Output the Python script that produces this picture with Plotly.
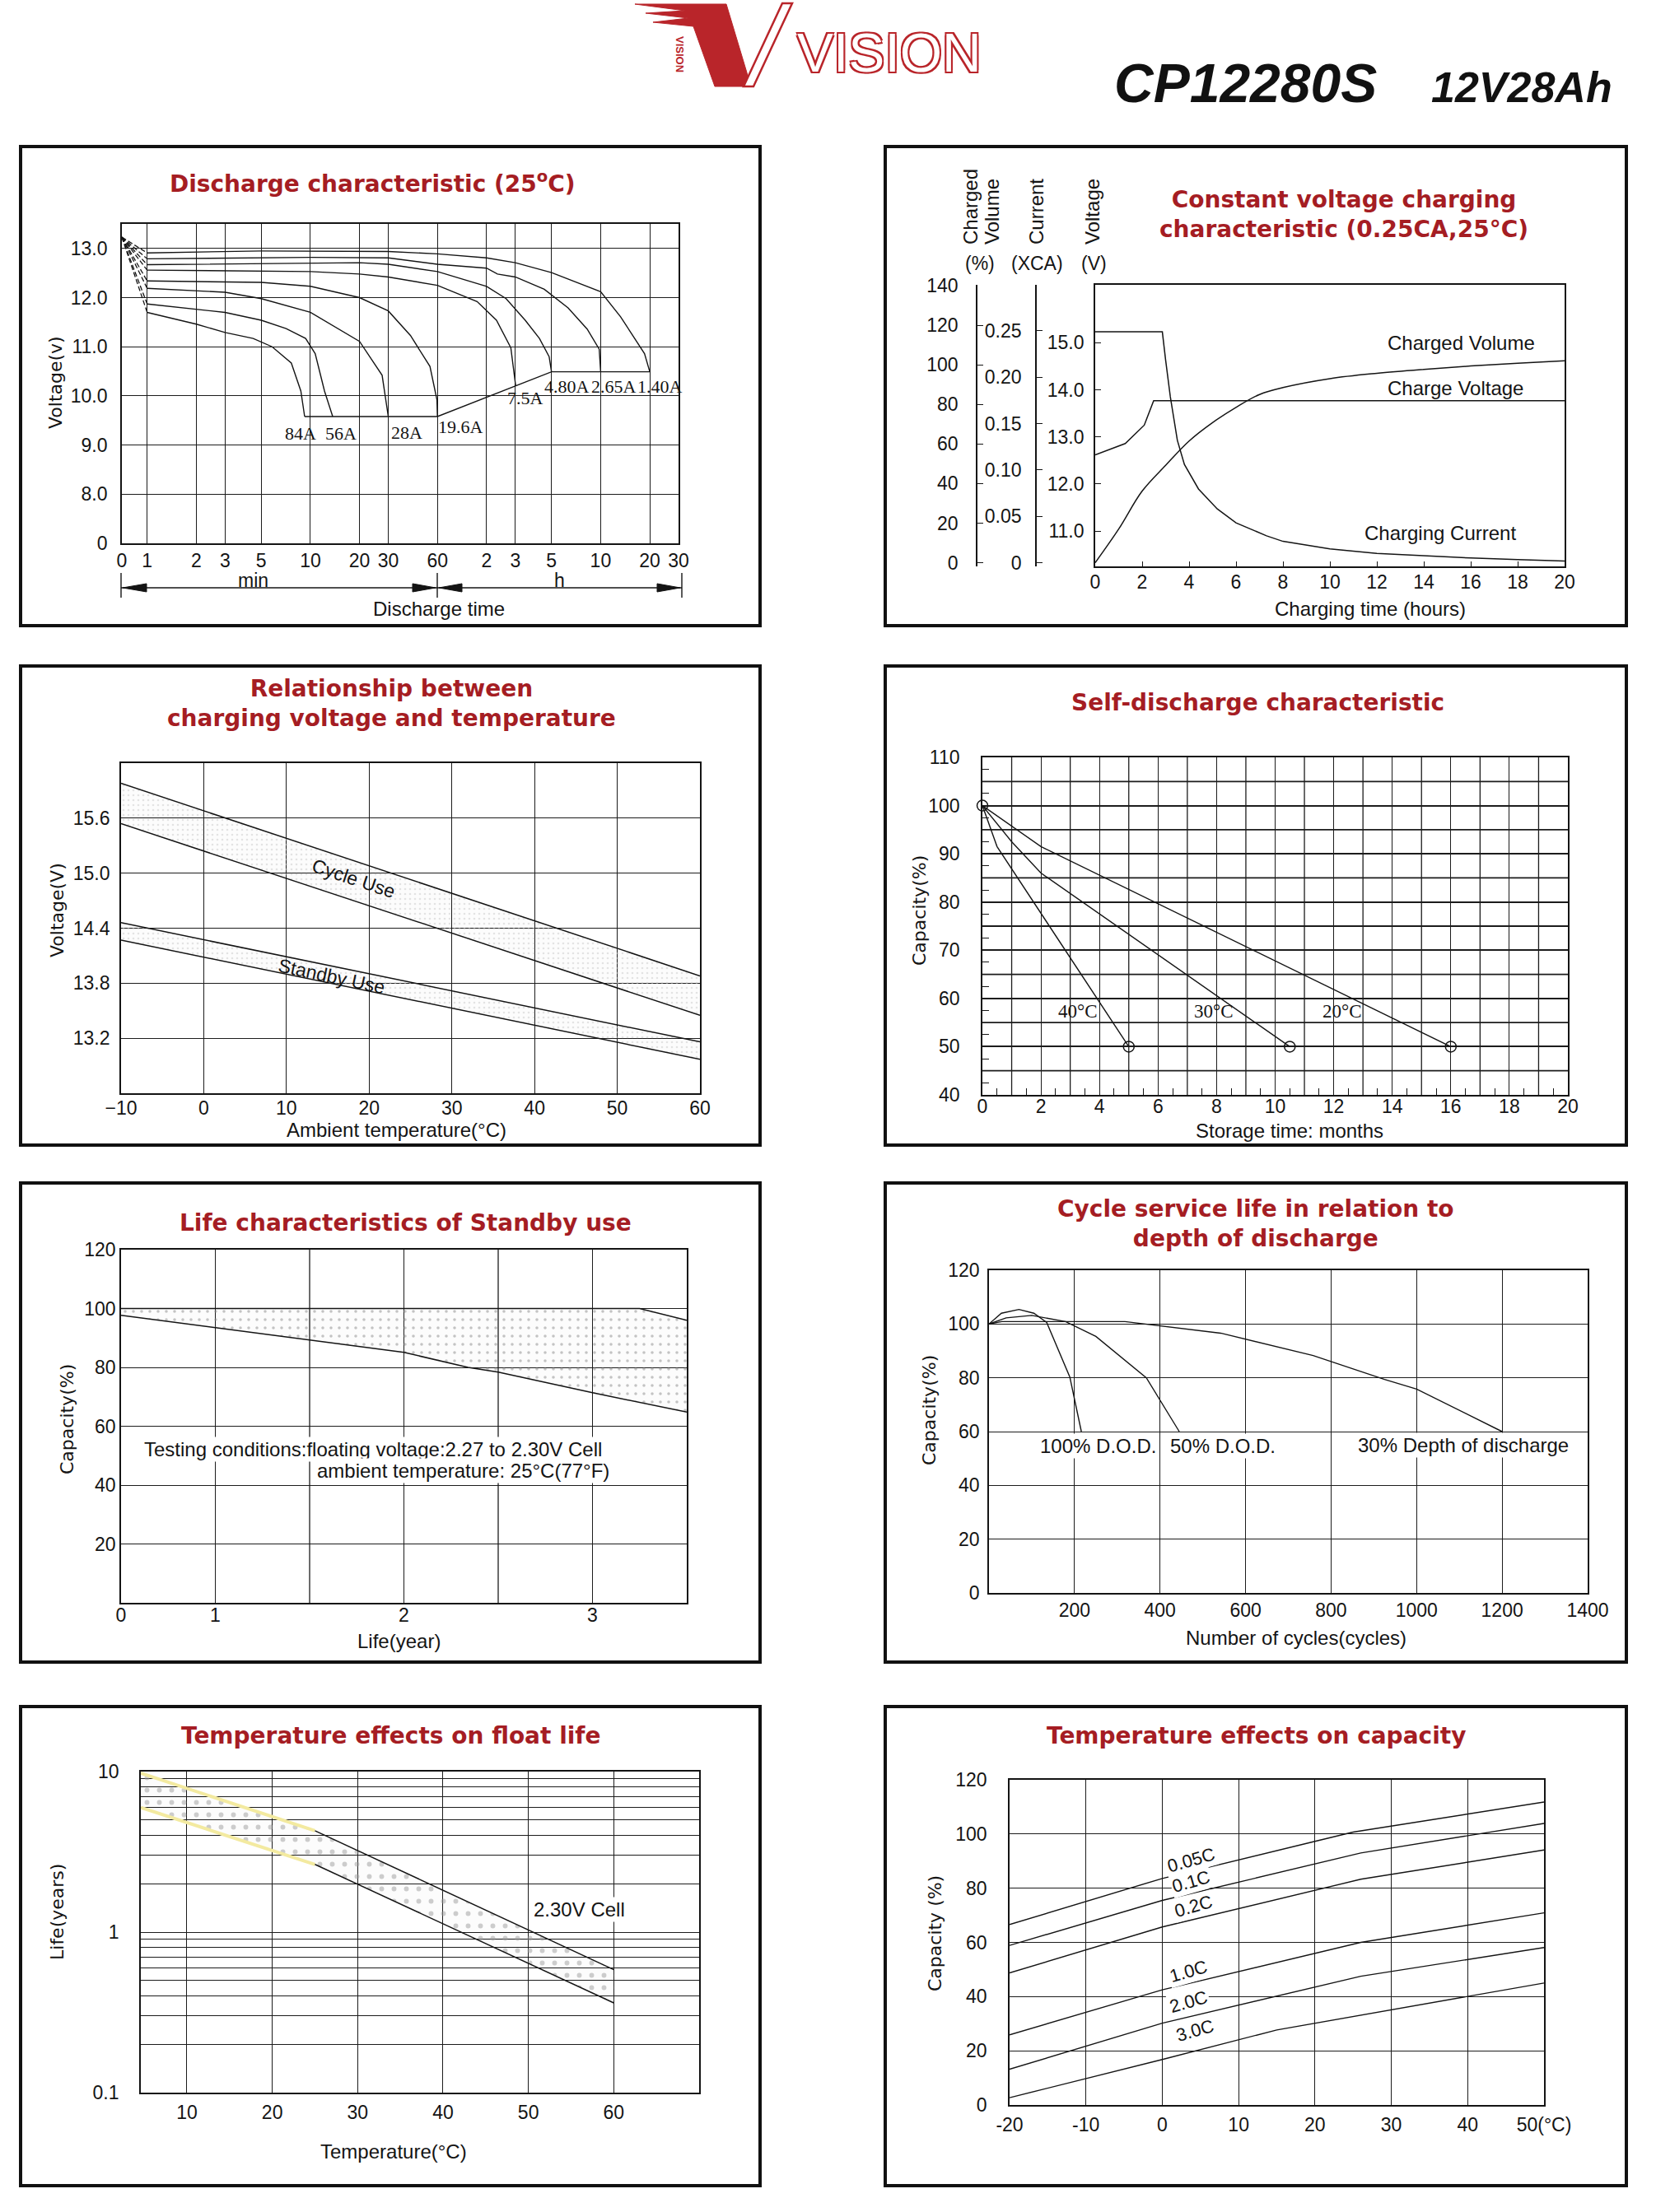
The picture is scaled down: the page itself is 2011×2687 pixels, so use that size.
import math
import plotly.graph_objects as go

W, H = 2011, 2687
INK = "#141414"
RED = "#a51d23"
SANS = "Liberation Sans, Arial, sans-serif"
SERIF = "Liberation Serif, Times New Roman, serif"
WIDE = "DejaVu Sans, Verdana, sans-serif"

# ================= DATA =================
# Panel 1: discharge characteristic (time in minutes, log axis)
DIS_T_ZERO = 0.7          # where the "0" tick sits on the log time axis
DIS_V_START = 13.23
dis_x_ticks = [0.7, 1, 2, 3, 5, 10, 20, 30, 60, 120, 180, 300, 600, 1200, 1800]
dis_x_text = ["0", "1", "2", "3", "5", "10", "20", "30", "60", "2", "3", "5", "10", "20", "30"]
dis_y_ticks = [7, 8, 9, 10, 11, 12, 13]
dis_y_text = ["0", "8.0", "9.0", "10.0", "11.0", "12.0", "13.0"]
dis_names = ["1.40A", "2.65A", "4.80A", "7.5A", "19.6A", "28A", "56A", "84A"]
dis_time = [
    [1, 5, 30, 60, 120, 180, 300, 600, 795, 973, 1114, 1200],
    [1, 10, 30, 60, 120, 140, 180, 271, 379, 496, 588, 600],
    [1, 20, 30, 60, 120, 158, 207, 253, 290, 300],
    [1, 10, 20, 30, 60, 105, 138, 169, 181],
    [1, 5, 10, 20, 30, 41, 54, 59.6, 60],
    [1, 3, 5, 10, 20, 27.5, 30],
    [1, 3, 5, 7.1, 9.35, 10.7, 12.2, 13.7],
    [1, 2, 3, 4.46, 5.83, 7.64, 8.74, 9.22],
]
dis_volt = [
    [12.91, 12.95, 12.94, 12.89, 12.81, 12.71, 12.51, 12.12, 11.61, 11.17, 10.86, 10.49],
    [12.79, 12.82, 12.81, 12.68, 12.60, 12.48, 12.42, 12.17, 11.79, 11.36, 10.95, 10.49],
    [12.67, 12.71, 12.68, 12.53, 12.23, 11.98, 11.54, 11.17, 10.80, 10.49],
    [12.56, 12.53, 12.48, 12.42, 12.25, 11.92, 11.54, 10.98, 10.20],
    [12.34, 12.31, 12.23, 12.00, 11.73, 11.23, 10.60, 9.92, 9.58],
    [12.19, 12.11, 11.98, 11.70, 11.11, 10.42, 9.58],
    [11.87, 11.70, 11.54, 11.37, 11.17, 10.86, 10.10, 9.58],
    [11.70, 11.46, 11.29, 11.17, 11.00, 10.67, 10.10, 9.58],
]
dis_cut_time = [9.22, 60, 300, 1200]
dis_cut_volt = [9.58, 9.58, 10.49, 10.49]
dis_lab_time = [1390, 719, 374, 207, 83, 39, 15.3, 8.74]
dis_lab_volt = [10.19, 10.19, 10.19, 9.95, 9.37, 9.26, 9.23, 9.23]

# Panel 2: constant voltage charging
ch_volt_t = [0, 1.28, 2.09, 2.49, 20]
ch_volt_v = [12.62, 12.86, 13.25, 13.77, 13.77]
ch_cur_t = [0, 2.86, 3.0, 3.2, 3.5, 3.8, 4.4, 5.2, 6, 7.3, 8, 10, 12, 14, 16, 18, 20]
ch_cur_c = [0.249, 0.249, 0.2185, 0.179, 0.132, 0.106, 0.0795, 0.058, 0.043, 0.029, 0.023,
            0.0149, 0.0099, 0.0073, 0.005, 0.0033, 0.0017]
ch_vol_t = [0, 1, 2, 3, 4, 5, 6, 7, 8, 10, 12, 14, 16, 18, 20]
ch_vol_p = [0, 17, 36.2, 49.2, 61.5, 70.8, 78.5, 85, 88.5, 93, 95.7, 97.7, 99.4, 100.8, 102]
ch_v_ticks = [11, 12, 13, 14, 15]
ch_v_text = ["11.0", "12.0", "13.0", "14.0", "15.0"]
ch_p_ticks = [0, 20, 40, 60, 80, 100, 120, 140]
ch_c_ticks = [0, 0.05, 0.10, 0.15, 0.20, 0.25]
ch_c_text = ["0", "0.05", "0.10", "0.15", "0.20", "0.25"]

# Panel 3: charging voltage vs temperature
tv_temp = [-10, 60]
tv_cycle_hi = [15.98, 13.88]
tv_cycle_lo = [15.54, 13.45]
tv_stby_hi = [14.46, 13.16]
tv_stby_lo = [14.27, 12.97]
tv_y_ticks = [13.2, 13.8, 14.4, 15.0, 15.6]
tv_y_text = ["13.2", "13.8", "14.4", "15.0", "15.6"]

# Panel 4: self-discharge
sd_40_t = [0, 0.5, 5.0]
sd_40_c = [100, 91.5, 50]
sd_30_t = [0, 1, 2, 10.5]
sd_30_c = [100, 92.5, 86, 50]
sd_20_t = [0, 2, 16]
sd_20_c = [100, 91.5, 50]
sd_mark_t = [0, 5.0, 10.5, 16]
sd_mark_c = [100, 50, 50, 50]
sd_lab = ["40°C", "30°C", "20°C"]
sd_lab_t = [3.25, 7.9, 12.3]
sd_lab_c = [57.4, 57.4, 57.4]

# Panel 5: standby life (axis positions as drawn: 0,1,(1.5),2,(2.5),3,(3.5))
life_x_ticks = [0, 1, 3, 5]
life_x_text = ["0", "1", "2", "3"]
life_x_extra_grid = [2, 4]
life_up_x = [0, 5.5, 6]
life_up_c = [100, 100, 96]
life_lo_x = [0, 1, 2, 3, 3.68, 4, 5, 6]
life_lo_c = [97.7, 93.5, 89.2, 85.1, 80, 78.4, 71.4, 64.8]

# Panel 6: cycle life
cy100_n = [0, 29, 70, 105, 135, 189, 216]
cy100_c = [100, 104, 105.4, 104, 100.6, 80.3, 60]
cy50_n = [0, 40, 100, 179, 250, 368, 445]
cy50_c = [100, 102.3, 103.2, 100.9, 95.4, 80, 60]
cy30_n = [0, 30, 318, 400, 542, 758, 925, 1000, 1200]
cy30_c = [100, 100.9, 100.9, 99.4, 96.6, 88.3, 79.4, 75.8, 60]

# Panel 7: float life vs temperature
fl_t = [4.6, 25, 60]
fl_up = [9.78, 4.28, 0.583]
fl_lo = [5.97, 2.64, 0.362]

# Panel 8: capacity vs temperature
tc_names = ["0.05C", "0.1C", "0.2C", "1.0C", "2.0C", "3.0C"]
tc_t = [
    [-20, 0, 20, 25, 50],
    [-20, 0, 26, 50],
    [-20, 0, 26, 50],
    [-20, 0, 26, 50],
    [-20, 0, 26, 50],
    [-20, 0, 15, 50],
]
tc_c = [
    [66.6, 83.6, 97.3, 100.7, 111.8],
    [58.9, 75.5, 93.0, 103.9],
    [48.75, 65.7, 83.3, 94.1],
    [25.9, 42.5, 60.0, 70.9],
    [13.2, 30.2, 47.5, 58.1],
    [2.7, 16.8, 27.7, 45.0],
]
tc_lab_t = [3.8, 3.8, 4.1, 3.5, 3.5, 4.3]
tc_lab_c = [90.5, 82.5, 73.4, 49.3, 38.2, 27.4]
tc_x_ticks = [-20, -10, 0, 10, 20, 30, 40, 50]
tc_x_text = ["-20", "-10", "0", "10", "20", "30", "40", "50(°C)"]

# ================= LAYOUT HELPERS =================
PLOT = {
    1: (148, 272, 824, 660),
    2: (1330, 346, 1900, 688),
    3: (147, 927, 850, 1328),
    4: (1193, 920, 1904, 1330),
    5: (147, 1518, 834, 1947),
    6: (1201, 1543, 1928, 1935),
    7: (171, 2152, 849, 2542),
    8: (1226, 2162, 1875, 2557),
}
BOXES = [(25, 178, 923, 760), (1075, 178, 1975, 760),
         (25, 809, 923, 1391), (1075, 809, 1975, 1391),
         (25, 1437, 923, 2019), (1075, 1437, 1975, 2019),
         (25, 2073, 923, 2655), (1075, 2073, 1975, 2655)]


def sfx(n):
    return "" if n == 1 else str(n)


def px(x):
    return x / W


def py(y):
    return 1 - y / H


def base_axis(**kw):
    d = dict(showline=True, linecolor=INK, linewidth=1.8, mirror=True, automargin=False,
             showgrid=True, gridcolor="#1c1c1c", gridwidth=1.3, zeroline=False,
             ticks="", tickfont=dict(family=SANS, size=23, color=INK))
    d.update(kw)
    return d


fig = go.Figure()
annotations = []
shapes = []


def line(n, xs, ys, width=1.5, dash="solid", color=INK, yaxis=None, **kw):
    fig.add_trace(go.Scatter(
        x=xs, y=ys, xaxis="x" + sfx(n), yaxis=yaxis or ("y" + sfx(n)), mode="lines",
        line=dict(color=color, width=width, dash=dash), showlegend=False,
        hoverinfo="skip", **kw))


def note(x, y, text, size=23, family=SANS, color=INK, ref=None, angle=0,
         bg=None, xanchor="center", yanchor="middle", **kw):
    if ref is None:
        xr, yr, xx, yy = "paper", "paper", px(x), py(y)
    else:
        xr, yr, xx, yy = "x" + sfx(ref), "y" + sfx(ref), x, y
    d = dict(x=xx, y=yy, xref=xr, yref=yr, text=text, showarrow=False,
             font=dict(family=family, size=size, color=color), textangle=angle,
             xanchor=xanchor, yanchor=yanchor, borderpad=1)
    if bg:
        d["bgcolor"] = bg
    d.update(kw)
    annotations.append(d)


def title(x, y, text):
    note(x, y, "<b>" + text + "</b>", size=28, family=WIDE, color=RED)


def ytitle(x, y, text):
    note(x, y, text, size=22, family=WIDE, angle=-90)


def path(points, close=True):
    s = "M " + " L ".join(f"{px(a):.5f},{py(b):.5f}" for a, b in points)
    return s + (" Z" if close else "")


layout_axes = {}
for n, (x0, y0, x1, y1) in PLOT.items():
    layout_axes["xaxis" + sfx(n)] = base_axis(domain=[px(x0), px(x1)], anchor="y" + sfx(n))
    layout_axes["yaxis" + sfx(n)] = base_axis(domain=[py(y1), py(y0)], anchor="x" + sfx(n))

# ---------------- Panel 1 ----------------
layout_axes["xaxis"].update(type="log", range=[math.log10(DIS_T_ZERO), math.log10(1800)],
                            tickvals=dis_x_ticks, ticktext=dis_x_text, ticklabelstandoff=-1)
layout_axes["yaxis"].update(range=[7, 13.5], tickvals=dis_y_ticks, ticktext=dis_y_text,
                            ticklabelstandoff=11)
for t, v in zip(dis_time, dis_volt):
    line(1, [DIS_T_ZERO, t[0]], [DIS_V_START, v[0]], width=1.3, dash="6px,3px")
    line(1, t, v, width=1.4)
line(1, dis_cut_time, dis_cut_volt, width=1.4)
for name, t, v in zip(dis_names, dis_lab_time, dis_lab_volt):
    note(math.log10(t), v, name, size=22, family=SERIF, ref=1)
title(452, 221, "Discharge characteristic (25<sup>o</sup>C)")
ytitle(67, 465, "Voltage(v)")
note(307, 705, "min", size=23)
note(679, 705, "h", size=23)
note(533, 739, "Discharge time", size=24)
for xv in (147, 531, 828):
    shapes.append(dict(type="line", xref="paper", yref="paper", x0=px(xv), x1=px(xv),
                       y0=py(696), y1=py(726), line=dict(color=INK, width=1.4)))
shapes.append(dict(type="line", xref="paper", yref="paper", x0=px(147), x1=px(828),
                   y0=py(714), y1=py(714), line=dict(color=INK, width=1.4)))
for tip, base in ((149, 178), (529, 501), (533, 561), (826, 798)):
    shapes.append(dict(type="path", xref="paper", yref="paper",
                       path=path([(tip, 714), (base, 709), (base, 719)]),
                       fillcolor=INK, line=dict(color=INK, width=1)))

# ---------------- Panel 2 ----------------
layout_axes["xaxis2"].update(range=[0, 20], dtick=2, tick0=0, showgrid=False, ticks="inside",
                             ticklen=6, tickcolor=INK, ticklabelstandoff=-3)
layout_axes["yaxis2"].update(range=[10.25, 16.23], tickvals=ch_v_ticks, ticktext=ch_v_text,
                             showgrid=False, ticks="inside", ticklen=7, tickcolor=INK,
                             ticklabelstandoff=7)
layout_axes["yaxis9"] = base_axis(overlaying="y2", anchor="free", position=px(1186), side="left",
                                  range=[-1.85, 140.4], tickvals=ch_p_ticks, showgrid=False,
                                  mirror=False, ticks="inside", ticklen=7, tickcolor=INK,
                                  ticklabelstandoff=17)
layout_axes["yaxis10"] = base_axis(overlaying="y2", anchor="free", position=px(1258), side="left",
                                   range=[-0.004, 0.2997], tickvals=ch_c_ticks, ticktext=ch_c_text,
                                   showgrid=False, mirror=False, ticks="inside", ticklen=7,
                                   tickcolor=INK, ticklabelstandoff=12)
line(2, ch_volt_t, ch_volt_v, width=1.5)
line(2, ch_cur_t, ch_cur_c, width=1.5, yaxis="y10")
line(2, ch_vol_t, ch_vol_p, width=1.5, yaxis="y9", line_shape="spline")
title(1632, 260, "Constant voltage charging<br>characteristic (0.25CA,25°C)")
note(1178, 299, "Charged", size=24, angle=-90, yanchor="bottom")
note(1204, 299, "Volume", size=24, angle=-90, yanchor="bottom")
note(1258, 299, "Current", size=24, angle=-90, yanchor="bottom")
note(1326, 299, "Voltage", size=24, angle=-90, yanchor="bottom")
note(1190, 320, "(%)", size=23)
note(1259, 320, "(XCA)", size=23)
note(1328, 320, "(V)", size=23)
note(1774, 417, "Charged Volume", size=24)
note(1767, 471, "Charge Voltage", size=24)
note(1749, 647, "Charging Current", size=24)
note(1664, 739, "Charging time (hours)", size=24)

# ---------------- Panel 3 ----------------
layout_axes["xaxis3"].update(range=[-10, 60], dtick=10, tick0=-10, ticklabelstandoff=-4)
layout_axes["yaxis3"].update(range=[12.6, 16.2], tickvals=tv_y_ticks, ticktext=tv_y_text,
                             ticklabelstandoff=7)
dots = dict(shape=".", fgcolor="#c9c9c9", size=6, solidity=0.15, fillmode="overlay")
line(3, tv_temp, tv_cycle_hi)
line(3, tv_temp, tv_cycle_lo, fill="tonexty", fillcolor="rgba(0,0,0,0.01)", fillpattern=dots)
line(3, tv_temp, tv_stby_hi)
line(3, tv_temp, tv_stby_lo, fill="tonexty", fillcolor="rgba(0,0,0,0.01)", fillpattern=dots)
title(475, 855, "Relationship between<br>charging voltage and temperature")
ytitle(70, 1106, "Voltage(V)")
note(481, 1372, "Ambient temperature(°C)", size=24)
note(429, 1067, "Cycle Use", size=23, angle=18.5)
note(403, 1186, "Standby Use", size=23, angle=12)

# ---------------- Panel 4 ----------------
layout_axes["xaxis4"].update(range=[0, 20], tickvals=list(range(0, 21, 2)),
                             ticklabelstandoff=-8,
                             minor=dict(tickvals=[v + 0.5 for v in range(20)], ticks="inside",
                                        ticklen=8, tickcolor=INK, showgrid=False))
layout_axes["yaxis4"].update(range=[40, 110], tickvals=list(range(40, 111, 10)),
                             ticklabelstandoff=21, gridwidth=1.8,
                             minor=dict(tickvals=[v + 2.5 for v in range(40, 110, 5)], ticks="inside",
                                        ticklen=8, tickcolor=INK, showgrid=False))
# grid lines between the labelled ticks (every month / every 5 %)
for v in range(1, 20, 2):
    shapes.append(dict(type="line", xref="x4", yref="y4 domain", x0=v, x1=v, y0=0, y1=1,
                       line=dict(color="#1c1c1c", width=1.3), layer="below"))
for v in range(45, 110, 10):
    shapes.append(dict(type="line", xref="x4 domain", yref="y4", x0=0, x1=1, y0=v, y1=v,
                       line=dict(color="#1c1c1c", width=1.8), layer="below"))
line(4, sd_40_t, sd_40_c, width=1.4)
line(4, sd_30_t, sd_30_c, width=1.4)
line(4, sd_20_t, sd_20_c, width=1.4)
fig.add_trace(go.Scatter(x=sd_mark_t, y=sd_mark_c, xaxis="x4", yaxis="y4", mode="markers",
                         marker=dict(symbol="circle-open", size=13, color=INK, line=dict(width=1.5)),
                         showlegend=False, hoverinfo="skip", cliponaxis=False))
for name, t, c in zip(sd_lab, sd_lab_t, sd_lab_c):
    note(t, c, name, size=23, family=SERIF, ref=4)
title(1527, 853, "Self-discharge characteristic")
ytitle(1117, 1106, "Capacity(%)")
note(1566, 1373, "Storage time: months", size=24)

# ---------------- Panel 5 ----------------
layout_axes["xaxis5"].update(range=[0, 6], tickvals=life_x_ticks, ticktext=life_x_text,
                             ticklabelstandoff=-7)
layout_axes["yaxis5"].update(range=[0, 120], tickvals=[20, 40, 60, 80, 100, 120],
                             ticklabelstandoff=0)
for v in life_x_extra_grid:
    shapes.append(dict(type="line", xref="x5", yref="y5 domain", x0=v, x1=v, y0=0, y1=1,
                       line=dict(color="#1c1c1c", width=1.3), layer="below"))
dots5 = dict(shape=".", fgcolor="#8a8a8a", size=10, solidity=0.1, fillmode="overlay")
line(5, life_up_x, life_up_c, width=1.5)
line(5, life_lo_x, life_lo_c, width=1.5, fill="tonexty", fillcolor="rgba(0,0,0,0.01)",
     fillpattern=dots5)
title(492, 1485, "Life characteristics of Standby use")
ytitle(81, 1724, "Capacity(%)")
note(484, 1993, "Life(year)", size=24)
note(173, 1760, "Testing conditions:floating voltage:2.27 to 2.30V Cell", size=24,
     xanchor="left", bg="white")
note(383, 1787, "ambient temperature: 25°C(77°F)", size=24, xanchor="left", bg="white")

# ---------------- Panel 6 ----------------
layout_axes["xaxis6"].update(range=[0, 1400], tickvals=[200, 400, 600, 800, 1000, 1200, 1400],
                             ticklabelstandoff=-1)
layout_axes["yaxis6"].update(range=[0, 120], tickvals=[0, 20, 40, 60, 80, 100, 120],
                             ticklabelstandoff=5)
line(6, cy100_n, cy100_c, width=1.4)
line(6, cy50_n, cy50_c, width=1.4)
line(6, cy30_n, cy30_c, width=1.4)
note(255, 54.7, "100% D.O.D.", size=24, ref=6, bg="white")
note(547, 54.7, "50% D.O.D.", size=24, ref=6, bg="white")
note(1110, 54.9, "30% Depth of discharge", size=24, ref=6, bg="white")
title(1525, 1486, "Cycle service life in relation to<br>depth of discharge")
ytitle(1129, 1713, "Capacity(%)")
note(1574, 1989, "Number of cycles(cycles)", size=24)

# ---------------- Panel 7 ----------------
layout_axes["xaxis7"].update(range=[4.6, 70], tickvals=[10, 20, 30, 40, 50, 60],
                             ticklabelstandoff=2)
layout_axes["yaxis7"].update(type="log", range=[-1, 1], tickvals=[0.1, 1, 10],
                             ticktext=["0.1", "1", "10"], ticklabelstandoff=20,
                             minor=dict(dtick="D1", showgrid=True, gridcolor="#1c1c1c",
                                        gridwidth=1.3, ticks=""))
speck = dict(shape=".", fgcolor="#9c9c9c", size=15, solidity=0.12, fillmode="overlay")
line(7, fl_t, fl_up, width=0)
line(7, fl_t, fl_lo, width=0, fill="tonexty", fillcolor="rgba(0,0,0,0.01)", fillpattern=speck)
line(7, fl_t[:2], fl_up[:2], width=4, color="#f3eaa0")
line(7, fl_t[:2], fl_lo[:2], width=4, color="#f3eaa0")
line(7, fl_t[1:], fl_up[1:], width=1.5)
line(7, fl_t[1:], fl_lo[1:], width=1.5)
note(56, math.log10(1.38), "2.30V Cell", size=24, ref=7, bg="white")
title(475, 2108, "Temperature effects on float life")
ytitle(69, 2323, "Life(years)")
note(478, 2613, "Temperature(°C)", size=24)

# ---------------- Panel 8 ----------------
layout_axes["xaxis8"].update(range=[-20, 50], tickvals=tc_x_ticks, ticktext=tc_x_text,
                             ticklabelstandoff=2)
layout_axes["yaxis8"].update(range=[0, 120], tickvals=[0, 20, 40, 60, 80, 100, 120],
                             ticklabelstandoff=21)
for t, c in zip(tc_t, tc_c):
    line(8, t, c, width=1.4)
for name, t, c in zip(tc_names, tc_lab_t, tc_lab_c):
    note(t, c, name, size=22, ref=8, angle=-16, bg="white")
title(1525, 2108, "Temperature effects on capacity")
ytitle(1135, 2349, "Capacity (%)")

# ---------------- Panel frames ----------------
for (a, b, c, d) in BOXES:
    shapes.append(dict(type="rect", xref="paper", yref="paper", x0=px(a), x1=px(c),
                       y0=py(d), y1=py(b), line=dict(color="#111", width=4)))

# ---------------- Header ----------------
LOGO_RED = "#b9252a"
shapes.append(dict(type="path", xref="paper", yref="paper",
                   path=path([(771, 5), (882, 5), (912, 105), (868, 105), (842, 32), (793, 27),
                              (836, 22), (784, 16), (832, 13)]),
                   fillcolor=LOGO_RED, line=dict(color=LOGO_RED, width=1)))
shapes.append(dict(type="path", xref="paper", yref="paper",
                   path=path([(903, 105), (950, 4), (962, 4), (915, 105)]),
                   fillcolor="white", line=dict(color=LOGO_RED, width=2.5)))
note(826, 66, "<b>VISION</b>", size=13, family=SANS, color=LOGO_RED, angle=90)
note(966, 64, "VISION", size=66, family="Liberation Sans Narrow, Liberation Sans, sans-serif",
     color="white", xanchor="left")
annotations[-1]["font"]["shadow"] = ("2px 2px 0 #b9252a, -2px -2px 0 #b9252a, "
                                     "2px -2px 0 #b9252a, -2px 2px 0 #b9252a")
note(1351, 101, "<b><i>CP12280S</i></b>", size=66, xanchor="left", color="#111")
note(1736, 106, "<b><i>12V28Ah</i></b>", size=52, xanchor="left", color="#111")

fig.update_layout(template="none", width=W, height=H,
                  margin=dict(l=0, r=0, t=0, b=0, autoexpand=False),
                  paper_bgcolor="white", plot_bgcolor="white", showlegend=False,
                  annotations=annotations, shapes=shapes, **layout_axes)

fig.write_html("out.html", config={"displayModeBar": False},
               post_script="document.body.style.margin='0';")
